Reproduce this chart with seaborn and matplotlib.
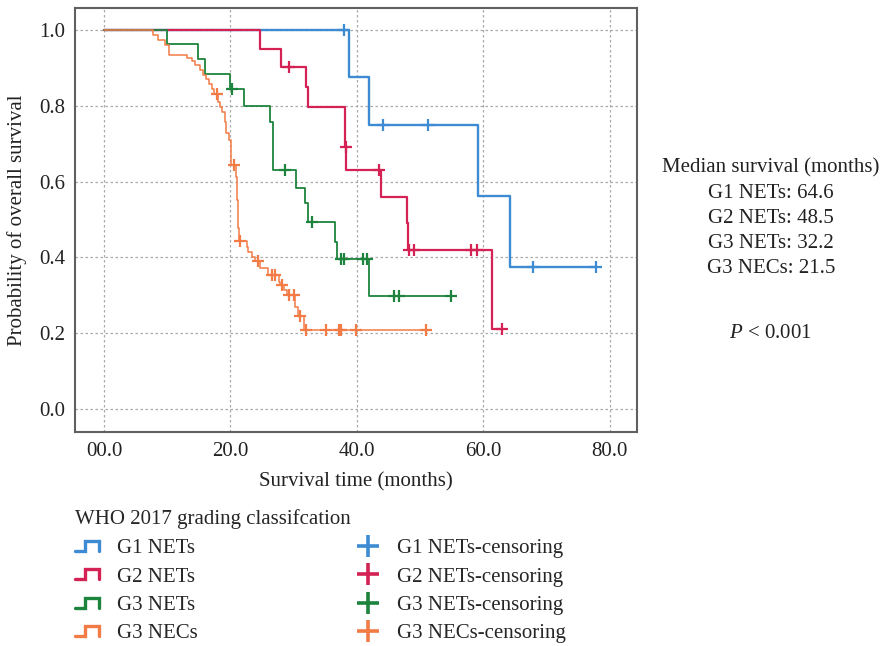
import numpy as np
import pandas as pd
import seaborn as sns
import matplotlib
matplotlib.use("Agg")
import matplotlib.pyplot as plt
from matplotlib.lines import Line2D
from matplotlib.legend_handler import HandlerBase

# Kaplan-Meier steps: event times, survival after each drop, censoring times
groups = ["G1 NETs", "G2 NETs", "G3 NETs", "G3 NECs"]

g1_times = [38.7, 41.9, 59.1, 64.2]
g1_surv = [0.875, 0.750, 0.563, 0.375]
g1_cens = [38.0, 44.1, 51.3, 67.9, 77.9]

g2_times = [24.6, 28.0, 32.0, 32.3, 38.1, 38.3, 43.8, 47.9, 48.1, 61.3]
g2_surv = [0.951, 0.901, 0.849, 0.796, 0.690, 0.631, 0.560, 0.490, 0.420, 0.210]
g2_cens = [29.2, 38.2, 43.5, 48.3, 49.1, 58.0, 59.0, 63.0]

g3net_times = [9.9, 14.9, 16.0, 19.9, 22.2, 26.3, 26.8, 30.3, 31.8, 32.2, 36.6, 36.9, 41.9]
g3net_surv = [0.963, 0.923, 0.884, 0.843, 0.799, 0.757, 0.631, 0.584, 0.543, 0.494,
              0.441, 0.396, 0.298]
g3net_cens = [20.3, 28.6, 32.9, 37.5, 37.9, 41.0, 41.6, 45.9, 46.7, 54.9]

nec_times = [7.7, 8.6, 9.7, 10.2, 13.1, 13.9, 14.4, 15.2, 15.7, 16.2, 16.6, 17.0, 17.4,
             18.1, 18.4, 18.6, 19.1, 19.3, 19.7, 20.1, 20.8, 21.1, 21.2, 21.4, 22.6, 22.8,
             23.4, 23.9, 24.7, 26.0, 27.6, 27.8, 28.4, 28.9, 30.2, 30.7, 31.6]
nec_surv = [0.986, 0.973, 0.961, 0.935, 0.926, 0.917, 0.907, 0.894, 0.880, 0.870, 0.858,
            0.845, 0.832, 0.810, 0.797, 0.784, 0.757, 0.727, 0.710, 0.644, 0.613, 0.550,
            0.477, 0.444, 0.428, 0.415, 0.402, 0.389, 0.371, 0.354, 0.336, 0.327, 0.314,
            0.301, 0.270, 0.244, 0.207]
nec_cens = [17.8, 20.5, 21.5, 24.4, 26.5, 27.1, 28.1, 29.2, 30.0, 31.0, 31.9, 35.1,
            37.1, 37.5, 39.9, 51.0]

medians = [64.6, 48.5, 32.2, 21.5]
x_ticks = [0, 20, 40, 60, 80]
y_ticks = [0.0, 0.2, 0.4, 0.6, 0.8, 1.0]

all_times = [g1_times, g2_times, g3net_times, nec_times]
all_surv = [g1_surv, g2_surv, g3net_surv, nec_surv]
all_cens = [g1_cens, g2_cens, g3net_cens, nec_cens]

colors = ["#3d8bd2", "#d42255", "#1d843e", "#f27b46"]
widths = [1.7, 1.6, 1.3, 1.1]
FS = 15

sns.set_theme(style="whitegrid")
plt.rcParams["font.family"] = ["Liberation Serif", "DejaVu Serif"]
plt.rcParams["mathtext.fontset"] = "custom"
plt.rcParams["mathtext.it"] = "Liberation Serif:italic"
plt.rcParams["mathtext.rm"] = "Liberation Serif"

fig = plt.figure(figsize=(8.84, 6.46), dpi=100)
ax = fig.add_axes([0.0848, 0.3313, 0.6357, 0.6563])
ax.set_facecolor("white")

for name, t, s, c, col, lw in zip(groups, all_times, all_surv, all_cens, colors, widths):
    end = max(max(t), max(c))
    df = pd.DataFrame({"time": [0.0] + list(t) + [end],
                       "surv": [1.0] + list(s) + [s[-1]]})
    sns.lineplot(data=df, x="time", y="surv", drawstyle="steps-post", estimator=None,
                 sort=False, color=col, linewidth=lw, ax=ax, legend=False)
    idx = np.searchsorted(t, c, side="right") - 1
    lev = np.where(idx >= 0, np.array(s)[np.clip(idx, 0, None)], 1.0)
    ax.plot(c, lev, ls="none", marker="+", color=col, markersize=8, mew=1.6)

ax.set_xlim(-4.6, 84.3)
ax.set_ylim(-0.061, 1.058)
ax.set_xticks(x_ticks)
ax.set_xticklabels([f"{v:04.1f}" for v in x_ticks])
ax.set_yticks(y_ticks)
ax.set_yticklabels([f"{v:.1f}" for v in y_ticks])
ax.tick_params(length=0, labelsize=FS, colors="#222222", pad=7)
ax.grid(True, color="#aaaaaa", linestyle=(0, (2, 2)), linewidth=0.9)
for sp in ax.spines.values():
    sp.set_color("#606060")
    sp.set_linewidth(1.5)
ax.set_xlabel("Survival time (months)", fontsize=FS, color="#222222", labelpad=8)
ax.set_ylabel("Probability of overall survival", fontsize=FS, color="#222222", labelpad=9)

# median survival annotation
fig.text(0.872, 0.740, "Median survival (months)", ha="center", va="center",
         fontsize=FS, color="#222222")
for i, (name, m) in enumerate(zip(groups, medians)):
    fig.text(0.872, 0.700 - i * 0.0387, f"{name}: {m}", ha="center", va="center",
             fontsize=FS, color="#222222")
fig.text(0.872, 0.483, r"$P$ < 0.001", ha="center", va="center", fontsize=FS,
         color="#222222")


class StepHandler(HandlerBase):
    def create_artists(self, legend, orig_handle, xdescent, ydescent, width, height,
                       fontsize, trans):
        xs = np.array([0.0, 0.42, 0.42, 1.0, 1.0]) * width - xdescent
        ys = np.array([0.15, 0.15, 0.85, 0.85, 0.15]) * height - ydescent
        ln = Line2D(xs, ys, color=orig_handle.get_color(), lw=2.4,
                    solid_joinstyle="miter")
        ln.set_transform(trans)
        return [ln]


step_handles = [Line2D([], [], color=col) for col in colors]
cens_handles = [Line2D([], [], ls="none", marker="+", color=col, markersize=16, mew=2.6)
                for col in colors]
handles = step_handles + cens_handles
labels = groups + [g + "-censoring" for g in groups]
hmap = {h: StepHandler() for h in step_handles}

leg = fig.legend(handles, labels, handler_map=hmap, loc="upper left",
                 bbox_to_anchor=(0.0848, 0.212), ncol=2, frameon=False,
                 title="WHO 2017 grading classifcation", title_fontsize=FS, fontsize=FS,
                 alignment="left", borderpad=0, borderaxespad=0, handlelength=1.15,
                 handletextpad=0.85, labelspacing=0.42, columnspacing=7.6)
leg._legend_box.sep = 7

plt.savefig("out.png", dpi=100)
